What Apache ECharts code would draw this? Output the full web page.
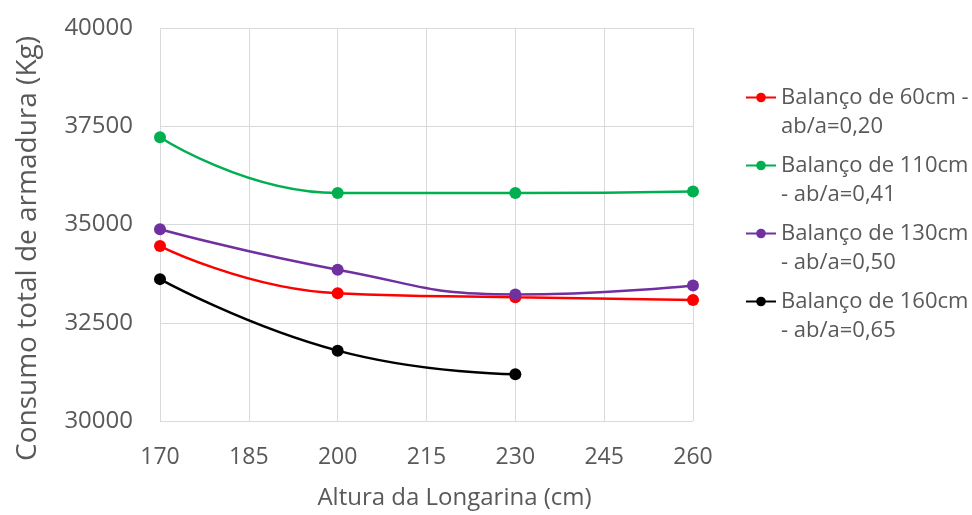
<!DOCTYPE html>
<html>
<head>
<meta charset="utf-8">
<script src="https://cdn.jsdelivr.net/npm/echarts@6/dist/echarts.min.js"></script>
<style>
html, body { margin: 0; padding: 0; background: #fff; }
#chart { width: 972px; height: 515px; }
</style>
</head>
<body>
<div id="chart"></div>
<script>
// alturas da longarina (cm)
const alturas = [170, 200, 230, 260]
const balanco60 = [34450, 33250, 33150, 33080]
const balanco110 = [37220, 35800, 35800, 35840]
const balanco130 = [34880, 33850, 33220, 33450]
const balanco160 = [33610, 31790, 31190]
const nomes = [
  'Balanço de 60cm -\nab/a=0,20',
  'Balanço de 110cm\n- ab/a=0,41',
  'Balanço de 130cm\n- ab/a=0,50',
  'Balanço de 160cm\n- ab/a=0,65'
]
const cores = ['#ff0000', '#00b050', '#7030a0', '#000000']

const fonte = 'Open Sans'
const cinza = '#595959'

let valores = [balanco60, balanco110, balanco130, balanco160]
let series = valores.map((v, i) => {
  return {
    name: nomes[i],
    type: 'line',
    smooth: 0.5,
    symbol: 'circle',
    symbolSize: 12,
    lineStyle: { width: 2.5, color: cores[i] },
    itemStyle: { color: cores[i] },
    data: v.map((y, j) => [alturas[j], y])
  }
})

let myChart = echarts.init(document.getElementById('chart'))
myChart.setOption({
  animation: false,
  color: cores,
  textStyle: { fontFamily: fonte },
  grid: { left: 160, right: 279, top: 28, bottom: 91 },
  legend: {
    orient: 'vertical',
    left: 745,
    top: 54,
    padding: 0,
    itemGap: -19,
    itemWidth: 30,
    itemHeight: 12,
    // linha em branco no topo para alinhar o ícone com a primeira linha
    formatter: name => '\n' + name,
    textStyle: {
      color: cinza,
      fontSize: 22,
      lineHeight: 29
    },
    data: nomes
  },
  xAxis: {
    type: 'value',
    min: 170,
    max: 260,
    interval: 15,
    name: 'Altura da Longarina (cm)',
    nameLocation: 'middle',
    nameGap: 65,
    nameTextStyle: { color: cinza, fontSize: 24, padding: [0, 0, 0, 56] },
    axisLine: { show: false },
    axisTick: { show: false },
    axisLabel: { color: cinza, fontSize: 23, margin: 25 },
    splitLine: { show: true, lineStyle: { color: '#d9d9d9', width: 1 } }
  },
  yAxis: {
    type: 'value',
    min: 30000,
    max: 40000,
    interval: 2500,
    name: 'Consumo total de armadura (Kg)',
    nameLocation: 'middle',
    nameGap: 118,
    nameTextStyle: { color: cinza, fontSize: 28, padding: [0, 48, 0, 0] },
    axisLine: { show: false },
    axisTick: { show: false },
    axisLabel: { color: cinza, fontSize: 24, margin: 27, formatter: v => String(v) },
    splitLine: { lineStyle: { color: '#d9d9d9', width: 1 } }
  },
  series
})
</script>
</body>
</html>
